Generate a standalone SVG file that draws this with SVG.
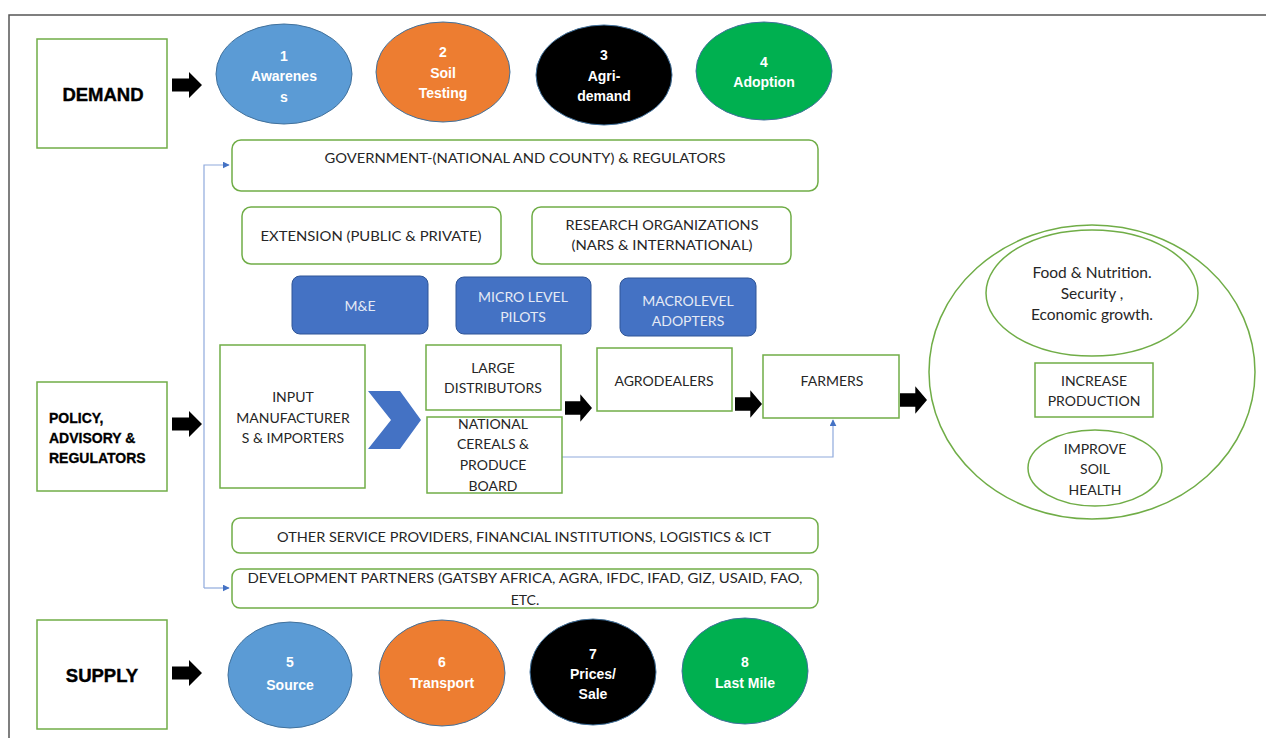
<svg xmlns="http://www.w3.org/2000/svg" width="1266" height="738" viewBox="0 0 1266 738">
  <style>
    .box { fill: #ffffff; stroke: #70AD47; stroke-width: 1.5; }
    .blue { fill: #4472C4; stroke: #2F5597; stroke-width: 1; }
    .oval { stroke: #41719C; stroke-width: 1; }
    .t { font-family: Lato, "Liberation Sans", sans-serif; font-size: 14px; fill: #262626; text-anchor: middle; }
    .t15 { font-size: 15.5px; }
    .tw { font-family: Lato, "Liberation Sans", sans-serif; font-size: 14px; fill: #E4EAF5; text-anchor: middle; }
    .hd { font-family: "Liberation Sans", Arial, sans-serif; font-weight: bold; font-size: 18.5px; fill: #000; text-anchor: middle; stroke: #000; stroke-width: 0.4; }
    .pol { font-family: "Liberation Sans", Arial, sans-serif; font-weight: bold; font-size: 14px; fill: #000; stroke: #000; stroke-width: 0.3; }
    .ov { font-family: "Liberation Sans", Arial, sans-serif; font-weight: bold; font-size: 14px; fill: #ffffff; text-anchor: middle; }
    .link { fill: none; stroke: #8FAADC; stroke-width: 1.2; }
    .blk { fill: #000; }
  </style>
  <defs>
    <!-- block arrow, tip at x=30, centred on y=0 -->
    <path id="blockArrow" d="M0,-6.5 H17 V-13 L30,0 L17,13 V6.5 H0 Z"/>
    <marker id="tri" viewBox="0 0 10 10" refX="9" refY="5" markerWidth="7" markerHeight="7" orient="auto" markerUnits="userSpaceOnUse">
      <path d="M0,0 L10,5 L0,10 Z" fill="#4472C4"/>
    </marker>
  </defs>

  <rect width="1266" height="738" fill="#ffffff"/>
  <!-- outer frame -->
  <rect x="9" y="15" width="1300" height="800" fill="none" stroke="#555555" stroke-width="1.5"/>

  <!-- connectors -->
  <g id="connectors">
    <path class="link" d="M204,588 V165 H229" marker-end="url(#tri)"/>
    <path class="link" d="M204,588 H229" marker-end="url(#tri)"/>
    <path class="link" d="M562,457 H833 V420" marker-end="url(#tri)"/>
    <use href="#blockArrow" class="blk" transform="translate(172,85)"/>
    <use href="#blockArrow" class="blk" transform="translate(172,424)"/>
    <use href="#blockArrow" class="blk" transform="translate(172,673)"/>
    <use href="#blockArrow" class="blk" transform="translate(565,408) scale(0.9,1.05)"/>
    <use href="#blockArrow" class="blk" transform="translate(735,404) scale(0.9,1.05)"/>
    <use href="#blockArrow" class="blk" transform="translate(900,400) scale(0.9,1.05)"/>
    <polygon points="368,391 400,391 421,420 400,449 368,449 391,420" fill="#4472C4"/>
  </g>

  <!-- demand row -->
  <g id="demand">
    <rect class="box" x="37" y="39" width="130" height="109"/>
    <text class="hd" x="103" y="101">DEMAND</text>
  </g>
  <g id="awareness">
    <ellipse class="oval" cx="284" cy="74" rx="68" ry="50" fill="#5B9BD5"/>
    <text class="ov" x="284" y="61">1</text>
    <text class="ov" x="284" y="81">Awarenes</text>
    <text class="ov" x="284" y="102">s</text>
  </g>
  <g id="soil-testing">
    <ellipse class="oval" cx="443" cy="72" rx="67" ry="50" fill="#ED7D31"/>
    <text class="ov" x="443" y="57">2</text>
    <text class="ov" x="443" y="78">Soil</text>
    <text class="ov" x="443" y="98">Testing</text>
  </g>
  <g id="agri-demand">
    <ellipse class="oval" cx="604" cy="75" rx="68" ry="50" fill="#000000"/>
    <text class="ov" x="604" y="60">3</text>
    <text class="ov" x="604" y="81">Agri-</text>
    <text class="ov" x="604" y="101">demand</text>
  </g>
  <g id="adoption">
    <ellipse class="oval" cx="764" cy="71" rx="68" ry="49" fill="#00B050"/>
    <text class="ov" x="764" y="67">4</text>
    <text class="ov" x="764" y="87">Adoption</text>
  </g>

  <!-- institutions -->
  <g id="government">
    <rect class="box" x="232" y="140" width="586" height="51" rx="9"/>
    <text class="t" x="525" y="163" textLength="401" lengthAdjust="spacingAndGlyphs">GOVERNMENT-(NATIONAL AND COUNTY) &amp; REGULATORS</text>
  </g>
  <g id="extension">
    <rect class="box" x="242" y="207" width="259" height="57" rx="9"/>
    <text class="t" x="371" y="241" textLength="221" lengthAdjust="spacingAndGlyphs">EXTENSION (PUBLIC &amp; PRIVATE)</text>
  </g>
  <g id="research">
    <rect class="box" x="532" y="207" width="259" height="57" rx="9"/>
    <text class="t" x="662" y="230" textLength="193" lengthAdjust="spacingAndGlyphs">RESEARCH ORGANIZATIONS</text>
    <text class="t" x="662" y="250" textLength="181" lengthAdjust="spacingAndGlyphs">(NARS &amp; INTERNATIONAL)</text>
  </g>
  <g id="m-and-e">
    <rect class="blue" x="292" y="276" width="136" height="58" rx="8"/>
    <text class="tw" x="360" y="311">M&amp;E</text>
  </g>
  <g id="micro-pilots">
    <rect class="blue" x="456" y="277" width="135" height="57" rx="8"/>
    <text class="tw" x="523" y="302">MICRO LEVEL</text>
    <text class="tw" x="523" y="322">PILOTS</text>
  </g>
  <g id="macro-adopters">
    <rect class="blue" x="620" y="278" width="136" height="58" rx="8"/>
    <text class="tw" x="688" y="306">MACROLEVEL</text>
    <text class="tw" x="688" y="326">ADOPTERS</text>
  </g>

  <!-- policy and value chain -->
  <g id="policy">
    <rect class="box" x="37" y="382" width="130" height="109"/>
    <text class="pol" x="49" y="423">POLICY,</text>
    <text class="pol" x="49" y="443">ADVISORY &amp;</text>
    <text class="pol" x="49" y="463">REGULATORS</text>
  </g>
  <g id="input-manufacturers">
    <rect class="box" x="220" y="345" width="145" height="143"/>
    <text class="t" x="293" y="402">INPUT</text>
    <text class="t" x="293" y="423">MANUFACTURER</text>
    <text class="t" x="293" y="443">S &amp; IMPORTERS</text>
  </g>
  <g id="large-distributors">
    <rect class="box" x="426" y="345" width="135" height="65"/>
    <text class="t" x="493" y="373">LARGE</text>
    <text class="t" x="493" y="393">DISTRIBUTORS</text>
  </g>
  <g id="ncpb">
    <rect class="box" x="427" y="417" width="135" height="76"/>
    <text class="t" x="493" y="429">NATIONAL</text>
    <text class="t" x="493" y="449">CEREALS &amp;</text>
    <text class="t" x="493" y="470">PRODUCE</text>
    <text class="t" x="493" y="491">BOARD</text>
  </g>
  <g id="agrodealers">
    <rect class="box" x="597" y="348" width="135" height="63"/>
    <text class="t" x="664" y="386">AGRODEALERS</text>
  </g>
  <g id="farmers">
    <rect class="box" x="763" y="355" width="136" height="63"/>
    <text class="t" x="832" y="386">FARMERS</text>
  </g>

  <!-- outcomes -->
  <g id="outcomes">
    <ellipse cx="1092" cy="372" rx="163" ry="147" fill="none" stroke="#70AD47" stroke-width="1.5"/>
  </g>
  <g id="food-security">
    <ellipse cx="1092" cy="293" rx="106" ry="63" fill="none" stroke="#70AD47" stroke-width="1.5"/>
    <text class="t t15" x="1092" y="278">Food &amp; Nutrition.</text>
    <text class="t t15" x="1092" y="299">Security ,</text>
    <text class="t t15" x="1092" y="320">Economic growth.</text>
  </g>
  <g id="increase-production">
    <rect class="box" x="1035" y="363" width="118" height="54"/>
    <text class="t" x="1094" y="386">INCREASE</text>
    <text class="t" x="1094" y="406">PRODUCTION</text>
  </g>
  <g id="soil-health">
    <ellipse cx="1095" cy="468" rx="67" ry="38" fill="none" stroke="#70AD47" stroke-width="1.5"/>
    <text class="t" x="1095" y="454">IMPROVE</text>
    <text class="t" x="1095" y="474">SOIL</text>
    <text class="t" x="1095" y="495">HEALTH</text>
  </g>

  <!-- service providers and partners -->
  <g id="service-providers">
    <rect class="box" x="232" y="518" width="586" height="35" rx="8"/>
    <text class="t" x="524" y="542" textLength="494" lengthAdjust="spacingAndGlyphs">OTHER SERVICE PROVIDERS, FINANCIAL INSTITUTIONS, LOGISTICS &amp; ICT</text>
  </g>
  <g id="development-partners">
    <rect class="box" x="232" y="569" width="586" height="39" rx="8"/>
    <text class="t" x="525" y="583" textLength="555" lengthAdjust="spacingAndGlyphs">DEVELOPMENT PARTNERS (GATSBY AFRICA, AGRA, IFDC, IFAD, GIZ, USAID, FAO,</text>
    <text class="t" x="525" y="605">ETC.</text>
  </g>

  <!-- supply row -->
  <g id="supply">
    <rect class="box" x="37" y="620" width="130" height="109"/>
    <text class="hd" x="102" y="682">SUPPLY</text>
  </g>
  <g id="source">
    <ellipse class="oval" cx="290" cy="675" rx="62" ry="53" fill="#5B9BD5"/>
    <text class="ov" x="290" y="667">5</text>
    <text class="ov" x="290" y="690">Source</text>
  </g>
  <g id="transport">
    <ellipse class="oval" cx="442" cy="673" rx="63" ry="53" fill="#ED7D31"/>
    <text class="ov" x="442" y="667">6</text>
    <text class="ov" x="442" y="688">Transport</text>
  </g>
  <g id="prices-sale">
    <ellipse class="oval" cx="593" cy="672" rx="63" ry="53" fill="#000000"/>
    <text class="ov" x="593" y="659">7</text>
    <text class="ov" x="593" y="679">Prices/</text>
    <text class="ov" x="593" y="699">Sale</text>
  </g>
  <g id="last-mile">
    <ellipse class="oval" cx="745" cy="671" rx="63" ry="53" fill="#00B050"/>
    <text class="ov" x="745" y="667">8</text>
    <text class="ov" x="745" y="688">Last Mile</text>
  </g>
</svg>
